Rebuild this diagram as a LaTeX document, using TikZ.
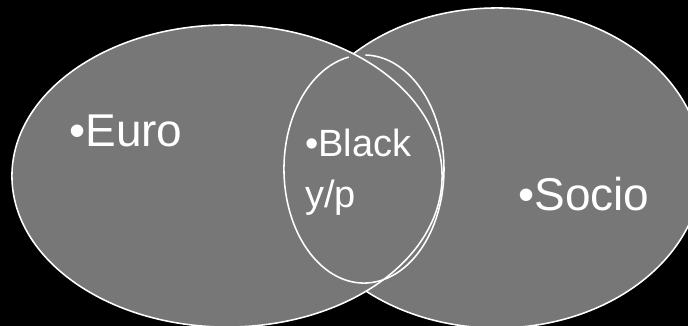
\documentclass[tikz,border=0pt]{standalone}
\usepackage{fontspec}
\setmainfont{Liberation Sans}
\definecolor{setgray}{RGB}{119,119,119}
\begin{document}
\begin{tikzpicture}[x=0.025cm, y=-0.025cm,
    setfill/.style={fill=setgray, draw=white, line width=1.1pt},
    biglabel/.style={text=white, inner sep=0pt, anchor=base west, font=\fontsize{32.7}{36}\selectfont},
    smalllabel/.style={text=white, inner sep=0pt, anchor=base west, align=left, font=\fontsize{27}{36.3}\selectfont}]
            \useasboundingbox (0,0) rectangle (688,326);
            \fill[black] (0,0) rectangle (688,326);
            \clip (0,0) rectangle (688,326);

            \filldraw[setfill] (497,168) ellipse [x radius=5.125cm, y radius=4cm];
            \filldraw[setfill] (227,176) ellipse [x radius=5.375cm, y radius=3.775cm];
            \draw[white, line width=1.1pt] (348.7,57.1) arc [start angle=101, end angle=449, x radius=2cm, y radius=2.85cm];

            \node[biglabel] (euro) at (69,147) {•Euro};
            \node[biglabel] (socio) at (518,211) {•Socio};
            \node[smalllabel] (black) at (305,208) {•Black\\y/p};
        \end{tikzpicture}
\end{document}
